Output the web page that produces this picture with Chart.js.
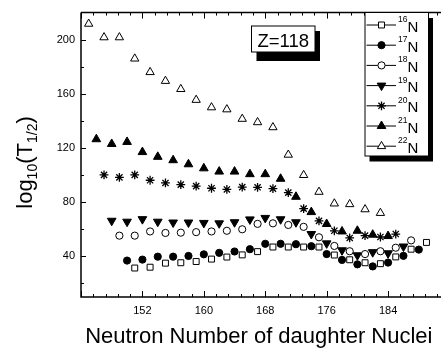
<!DOCTYPE html>
<html>
<head>
<meta charset="utf-8">
<script src="https://cdn.jsdelivr.net/npm/chart.js@4/dist/chart.umd.min.js"></script>
<style>
  html, body { margin: 0; padding: 0; background: #fff; overflow: hidden; }
  #wrap { width: 460px; height: 354px; }
</style>
</head>
<body>
<div id="wrap"><canvas id="myChart"></canvas></div>
<script>
// neutron numbers (x) and log10(T1/2) values for each emitted isotope
const n16 = [151, 153, 155, 157, 159, 161, 163, 165, 167, 169, 171, 173, 175, 177, 179, 181, 183, 185, 187, 189];
const t16 = [31.4, 32, 35, 35.3, 36.2, 38, 39.5, 41.1, 43.5, 46.9, 46.9, 46.9, 46.9, 41, 37.5, 35.3, 34.6, 39.6, 45.3, 50.3];

const n17 = [150, 152, 154, 156, 158, 160, 162, 164, 166, 168, 170, 172, 174, 176, 178, 180, 182, 184, 186, 188];
const t17 = [36.9, 37.6, 39.8, 39.8, 40.3, 41.5, 42.6, 43.6, 45.3, 49.3, 49.3, 49, 47.5, 41.7, 37.4, 34.1, 32.6, 35.4, 40.4, 45];

const n18 = [149, 151, 153, 155, 157, 159, 161, 163, 165, 167, 169, 171, 173, 175, 177, 179, 181, 183, 185, 187];
const t18 = [55.3, 55.3, 58.4, 57.3, 57.5, 57.9, 58.4, 58.9, 60, 64, 64.4, 63.2, 61.8, 54.1, 47.7, 43.8, 41.7, 43.8, 46.4, 51.8];

const n19 = [148, 150, 152, 154, 156, 158, 160, 162, 164, 166, 168, 170, 172, 174, 176, 178, 180, 182, 184, 186];
const t19 = [66.3, 65.6, 67.5, 65.6, 65, 65, 64.7, 64.4, 65.2, 67.3, 68.4, 67.4, 65.2, 56.5, 49.6, 44.5, 40.8, 43.1, 42.3, 47.3];

const n20 = [147, 149, 151, 153, 155, 157, 159, 161, 163, 165, 167, 169, 171, 173, 175, 177, 179, 181, 183, 185];
const t20 = [100.2, 98.3, 100.2, 96.2, 94.2, 93, 91.9, 90.3, 89.4, 91.1, 91, 90, 87.1, 75.3, 66.2, 58.9, 53.6, 55.3, 54.3, 56.5];

const n21 = [146, 148, 150, 152, 154, 156, 158, 160, 162, 164, 166, 168, 170, 172, 174, 176, 178, 180, 182, 184];
const t21 = [126.5, 123, 124.5, 117, 113.5, 111, 108, 105, 102.6, 102.6, 100.7, 100.7, 97.3, 84, 72.7, 63.9, 58.4, 58.9, 56, 55];

const n22 = [145, 147, 149, 151, 153, 155, 157, 159, 161, 163, 165, 167, 169, 171, 173, 175, 177, 179, 181, 183];
const t22 = [211.7, 201.7, 201.7, 186, 176, 169.5, 163.5, 155.5, 150, 148.5, 141.5, 139, 135.3, 115, 100, 87.6, 79, 78.5, 74.7, 72];

const seriesNames = ['16', '17', '18', '19', '20', '21', '22'];
const xTickLabels = [152, 160, 168, 176, 184];
const yTickLabels = [40, 80, 120, 160, 200];

const styles = [
    { pointStyle: 'rect', radius: 4.2, rotation: 0, fill: '#fff', bw: 1 },
    { pointStyle: 'circle', radius: 3.6, rotation: 0, fill: '#000', bw: 1 },
    { pointStyle: 'circle', radius: 3.6, rotation: 0, fill: '#fff', bw: 1 },
    { pointStyle: 'triangle', radius: 5, rotation: 180, fill: '#000', bw: 1 },
    { pointStyle: 'star', radius: 4.4, rotation: 0, fill: '#000', bw: 1.3 },
    { pointStyle: 'triangle', radius: 5, rotation: 0, fill: '#000', bw: 1 },
    { pointStyle: 'triangle', radius: 4.8, rotation: 0, fill: '#fff', bw: 1 }
];

const xs = [n16, n17, n18, n19, n20, n21, n22];
const ys = [t16, t17, t18, t19, t20, t21, t22];

const datasets = seriesNames.map(function (name, i) {
    return {
        label: name + 'N',
        data: xs[i].map(function (v, j) { return { x: v, y: ys[i][j] }; }),
        showLine: false,
        pointStyle: styles[i].pointStyle,
        pointRadius: styles[i].radius,
        pointHoverRadius: styles[i].radius,
        pointRotation: styles[i].rotation,
        pointBackgroundColor: styles[i].fill,
        pointBorderColor: '#000',
        pointBorderWidth: styles[i].bw
    };
});

const FONT = '"Liberation Sans", Arial, Helvetica, sans-serif';

// draw a run of text pieces: [text, size, yShift]
function drawRuns(ctx, runs, x, y, align) {
    let total = 0;
    runs.forEach(function (r) {
        ctx.font = r[1] + 'px ' + FONT;
        total += ctx.measureText(r[0]).width;
    });
    let cx = align === 'center' ? x - total / 2 : x;
    ctx.textAlign = 'left';
    ctx.textBaseline = 'alphabetic';
    runs.forEach(function (r) {
        ctx.font = r[1] + 'px ' + FONT;
        ctx.fillText(r[0], cx, y + r[2]);
        cx += ctx.measureText(r[0]).width;
    });
}

const decorations = {
    id: 'decorations',
    afterDraw: function (chart) {
        const ctx = chart.ctx;
        const a = chart.chartArea;
        const sx = chart.scales.x;
        const sy = chart.scales.y;
        ctx.save();
        ctx.strokeStyle = '#000';
        ctx.fillStyle = '#000';

        // frame
        ctx.lineWidth = 1.5;
        ctx.beginPath();
        ctx.moveTo(a.left, a.top);
        ctx.lineTo(a.right, a.top);
        ctx.moveTo(a.left, a.top);
        ctx.lineTo(a.left, a.bottom);
        ctx.lineTo(a.right, a.bottom);
        ctx.stroke();

        // x ticks (inward, bottom and top)
        ctx.lineWidth = 1;
        ctx.beginPath();
        for (let k = 0; k <= 30; k++) {
            const v = 144 + 1.6 * k;
            const px = Math.round(sx.getPixelForValue(v)) + 0.5;
            const len = (k % 5 === 0) ? 6 : 3;
            ctx.moveTo(px, a.bottom);
            ctx.lineTo(px, a.bottom - len);
            ctx.moveTo(px, a.top);
            ctx.lineTo(px, a.top + len);
        }
        // y ticks
        for (let v = 20; v < 220; v += 20) {
            const py = Math.round(sy.getPixelForValue(v)) + 0.5;
            const len = (v % 40 === 0) ? 5 : 3;
            ctx.moveTo(a.left, py);
            ctx.lineTo(a.left + len, py);
        }
        ctx.stroke();

        // Z=118 box
        ctx.fillRect(256.5, 31, 63.5, 30);
        ctx.fillStyle = '#fff';
        ctx.fillRect(251.5, 26, 63.5, 26);
        ctx.lineWidth = 1;
        ctx.strokeRect(251.5, 26, 63.5, 26);
        ctx.fillStyle = '#000';
        drawRuns(ctx, [['Z=118', 18.5, 0]], 283.3, 46.5, 'center');

        // legend box
        ctx.fillRect(369.5, 18, 63.5, 143.5);
        ctx.fillStyle = '#fff';
        ctx.fillRect(365, 12.5, 63.5, 143.5);
        ctx.strokeRect(365, 12.5, 63.5, 143.5);
        for (let i = 0; i < seriesNames.length; i++) {
            const ly = 25 + 20.2 * i;
            ctx.strokeStyle = '#000';
            ctx.lineWidth = 1;
            ctx.beginPath();
            ctx.moveTo(366.5, ly);
            ctx.lineTo(396, ly);
            ctx.stroke();
            ctx.fillStyle = styles[i].fill;
            ctx.strokeStyle = '#000';
            ctx.lineWidth = styles[i].bw;
            Chart.helpers.drawPoint(ctx, {
                pointStyle: styles[i].pointStyle,
                radius: styles[i].radius,
                rotation: styles[i].rotation,
                borderWidth: styles[i].bw
            }, 381.5, ly);
            ctx.fillStyle = '#000';
            ctx.font = '8.5px ' + FONT;
            ctx.textAlign = 'right';
            ctx.textBaseline = 'alphabetic';
            ctx.fillText(seriesNames[i], 407.5, ly - 3);
            ctx.font = '15px ' + FONT;
            ctx.textAlign = 'left';
            ctx.fillText('N', 407.5, ly + 6.5);
        }

        // axis titles
        ctx.fillStyle = '#000';
        drawRuns(ctx, [['Neutron Number of daughter Nuclei', 22, 0]], 258.8, 343.3, 'center');
        ctx.translate(31.5, 162.5);
        ctx.rotate(-Math.PI / 2);
        drawRuns(ctx, [['log', 22, 0], ['10', 14, 5], ['(T', 22, 0], ['1/2', 14, 5], [')', 22, 0]], 0, 0, 'center');
        ctx.restore();
    }
};

const config = {
    type: 'scatter',
    data: { datasets: datasets },
    options: {
        responsive: true,
        maintainAspectRatio: false,
        animation: false,
        layout: { padding: { top: 5, right: 10.5, left: 0, bottom: 0 } },
        plugins: { legend: { display: false }, tooltip: { enabled: false } },
        scales: {
            x: {
                type: 'linear',
                min: 144,
                max: 192,
                grid: { display: false, drawTicks: false },
                border: { display: false },
                afterBuildTicks: function (scale) {
                    scale.ticks = xTickLabels.map(function (v) { return { value: v }; });
                },
                afterFit: function (scale) { scale.height = 57; },
                ticks: {
                    color: '#000',
                    padding: 7,
                    maxRotation: 0,
                    font: { family: FONT, size: 11 }
                }
            },
            y: {
                type: 'linear',
                min: 10,
                max: 220,
                grid: { display: false, drawTicks: false },
                border: { display: false },
                afterBuildTicks: function (scale) {
                    scale.ticks = yTickLabels.map(function (v) { return { value: v }; });
                },
                afterFit: function (scale) { scale.width = 81; },
                ticks: {
                    color: '#000',
                    padding: 6,
                    font: { family: FONT, size: 11 }
                }
            }
        }
    },
    plugins: [decorations]
};

const myChart = new Chart(document.getElementById('myChart'), config);
</script>
</body>
</html>
